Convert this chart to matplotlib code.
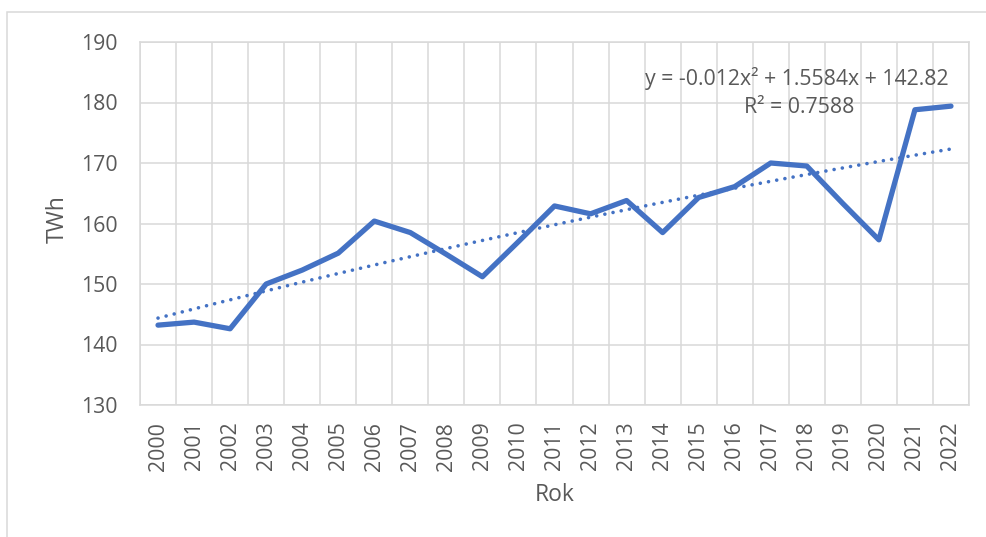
import matplotlib
matplotlib.use("Agg")
import matplotlib.pyplot as plt
from matplotlib.patches import Rectangle
import numpy as np

years = [str(y) for y in range(2000, 2023)]
twh = [143.2, 143.7, 142.6, 150.0, 152.3, 155.1, 160.4, 158.5, 154.9, 151.2,
       157.0, 162.9, 161.6, 163.8, 158.5, 164.3, 166.1, 170.0, 169.5, 163.3,
       157.3, 178.8, 179.4]
trend_coeffs = [-0.012, 1.5584, 142.82]   # y = a x^2 + b x + c, x = 1..N
eq_text = "y = -0.012x² + 1.5584x + 142.82"
r2_text = "R² = 0.7588"
yticks = [130, 140, 150, 160, 170, 180, 190]

W, H = 986, 537
fig = plt.figure(figsize=(W / 100, H / 100), dpi=100)
fig.patch.set_facecolor("white")
plt.rcParams["font.family"] = ["Open Sans", "DejaVu Sans"]

L, R, T, B = 140, 969, 42, 405
ax = fig.add_axes([L / W, 1 - B / H, (R - L) / W, (B - T) / H])

grid_c = "#D9D9D9"
txt_c = "#595959"
line_c = "#4472C4"

x = np.arange(len(years))
ax.set_xlim(-0.5, len(years) - 0.5)
ax.set_ylim(yticks[0], yticks[-1])

ax.set_yticks(yticks)
ax.set_xticks(x)
ax.set_xticklabels(years, rotation=90)
ax.set_xticks(np.arange(-0.5, len(years)), minor=True)
ax.grid(True, which="minor", axis="x", color=grid_c, lw=1.1)
ax.grid(True, which="major", axis="y", color=grid_c, lw=1.1)
ax.set_axisbelow(True)
for s in ax.spines.values():
    s.set_color(grid_c)
    s.set_linewidth(1.1)

ax.tick_params(axis="both", which="both", length=0, colors=txt_c, labelsize=15.3)
ax.tick_params(axis="y", pad=16)
ax.tick_params(axis="x", pad=12)

# data line
ax.plot(x, twh, color=line_c, lw=3.8, solid_capstyle="round",
        solid_joinstyle="round", zorder=3)

# polynomial trendline (Excel x = 1..N)
xt = np.linspace(1, len(years), 300)
a, b, c = trend_coeffs
yt = a * xt ** 2 + b * xt + c
ax.plot(xt - 1, yt, color=line_c, lw=2.6, linestyle=(0, (0.01, 2.3)),
        dash_capstyle="round", zorder=2)

# trendline labels
fig.text(797 / W, 1 - 78 / H, eq_text, ha="center", va="center",
         color=txt_c, fontsize=15.3)
fig.text(799 / W, 1 - 107 / H, r2_text, ha="center", va="center",
         color=txt_c, fontsize=15.3)

# axis titles
fig.text(58 / W, 1 - 219 / H, "TWh", rotation=90, ha="center", va="center",
         color=txt_c, fontsize=16.5)
fig.text(555 / W, 1 - 495 / H, "Rok", ha="center", va="center",
         color=txt_c, fontsize=16.5)

# chart area border (extends beyond image on right/bottom)
fig.patches.append(Rectangle((7 / W, -0.2), 1.2, 1.2 - 12 / H,
                             transform=fig.transFigure, fill=False,
                             edgecolor=grid_c, lw=1.1))

fig.savefig("out.png", dpi=100, facecolor="white")
